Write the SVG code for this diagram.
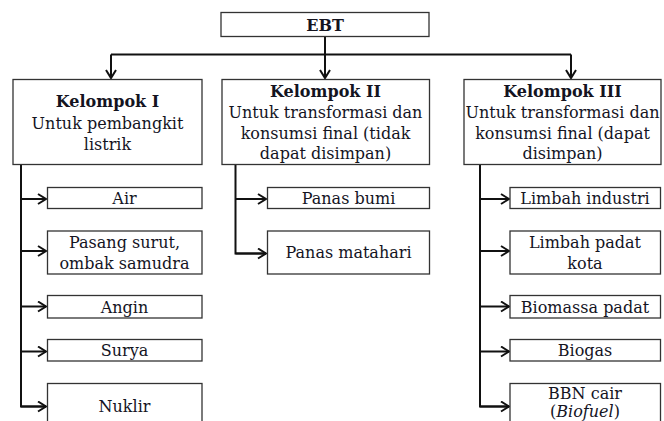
<svg xmlns="http://www.w3.org/2000/svg" width="664" height="421" viewBox="0 0 664 421">
<defs>
<style>
.box{fill:#fff;stroke:#333;stroke-width:1.3}
.t{font-family:"DejaVu Serif","Liberation Serif",serif;font-size:16px;fill:#14141f;text-anchor:middle}
.b{font-weight:bold}
.c{fill:none;stroke:#111;stroke-width:2}
</style>
<marker id="ah" markerUnits="userSpaceOnUse" markerWidth="12" markerHeight="14" refX="9" refY="6" orient="auto">
<path d="M1,1 L9,6 L1,11" fill="none" stroke="#111" stroke-width="2"/>
</marker>
</defs>
<rect width="664" height="421" fill="#fff"/>
<g id="connectors">
<path class="c" d="M325,37 V54.5 M111,54.5 H571"/>
<path class="c" d="M111,54.5 V78" marker-end="url(#ah)"/>
<path class="c" d="M325,54.5 V78" marker-end="url(#ah)"/>
<path class="c" d="M571,54.5 V78" marker-end="url(#ah)"/>
<path class="c" d="M21,165 V406.5 H46"/>
<path class="c" d="M21,199 H46" marker-end="url(#ah)"/>
<path class="c" d="M21,251 H46" marker-end="url(#ah)"/>
<path class="c" d="M21,306.5 H46" marker-end="url(#ah)"/>
<path class="c" d="M21,351.5 H46" marker-end="url(#ah)"/>
<path class="c" d="M21,406.5 H46" marker-end="url(#ah)"/>
<path class="c" d="M235.5,165 V253.5 H266"/>
<path class="c" d="M235.5,199 H266" marker-end="url(#ah)"/>
<path class="c" d="M235.5,253.5 H266" marker-end="url(#ah)"/>
<path class="c" d="M480,165 V406.5 H509"/>
<path class="c" d="M480,199 H509" marker-end="url(#ah)"/>
<path class="c" d="M480,251 H509" marker-end="url(#ah)"/>
<path class="c" d="M480,306.5 H509" marker-end="url(#ah)"/>
<path class="c" d="M480,351.5 H509" marker-end="url(#ah)"/>
<path class="c" d="M480,406.5 H509" marker-end="url(#ah)"/>
</g>
<g id="ebt"><rect class="box" x="221" y="12.5" width="208" height="24"/><text class="t b" x="325" y="31">EBT</text></g>
<g id="kelompok1"><rect class="box" x="13" y="79.5" width="189" height="85"/>
<text class="t b" x="107.5" y="107">Kelompok I</text>
<text class="t" x="107.5" y="129">Untuk pembangkit</text>
<text class="t" x="107.5" y="150">listrik</text></g>
<g id="kelompok2"><rect class="box" x="222" y="79.5" width="207.5" height="85"/>
<text class="t b" x="325.5" y="97">Kelompok II</text>
<text class="t" x="325.5" y="118">Untuk transformasi dan</text>
<text class="t" x="325.5" y="138.5">konsumsi final (tidak</text>
<text class="t" x="325.5" y="159">dapat disimpan)</text></g>
<g id="kelompok3"><rect class="box" x="464" y="79.5" width="197" height="85"/>
<text class="t b" x="562.5" y="97">Kelompok III</text>
<text class="t" x="562.5" y="118" textLength="194" lengthAdjust="spacingAndGlyphs">Untuk transformasi dan</text>
<text class="t" x="562.5" y="138.5">konsumsi final (dapat</text>
<text class="t" x="562.5" y="159">disimpan)</text></g>
<g id="air"><rect class="box" x="47.5" y="187.5" width="154.5" height="21"/><text class="t" x="124.5" y="204">Air</text></g>
<g id="pasang"><rect class="box" x="47.5" y="231" width="154.5" height="43"/><text class="t" x="124.5" y="248">Pasang surut,</text><text class="t" x="124.5" y="268.5">ombak samudra</text></g>
<g id="angin"><rect class="box" x="47.5" y="295.5" width="154.5" height="22.5"/><text class="t" x="124.5" y="313">Angin</text></g>
<g id="surya"><rect class="box" x="47.5" y="339.5" width="154.5" height="21.5"/><text class="t" x="124.5" y="356">Surya</text></g>
<g id="nuklir"><rect class="box" x="47.5" y="383.5" width="154.5" height="45"/><text class="t" x="124.5" y="412">Nuklir</text></g>
<g id="panasbumi"><rect class="box" x="267.5" y="187.5" width="162" height="21"/><text class="t" x="348.5" y="204">Panas bumi</text></g>
<g id="panasmatahari"><rect class="box" x="267.5" y="231" width="162" height="43"/><text class="t" x="348.5" y="258">Panas matahari</text></g>
<g id="limbahindustri"><rect class="box" x="510" y="187.5" width="150.5" height="21"/><text class="t" x="585" y="204">Limbah industri</text></g>
<g id="limbahpadat"><rect class="box" x="510" y="231" width="150.5" height="43"/><text class="t" x="585" y="248">Limbah padat</text><text class="t" x="585" y="268.5">kota</text></g>
<g id="biomassa"><rect class="box" x="510" y="295.5" width="150.5" height="22.5"/><text class="t" x="585" y="313">Biomassa padat</text></g>
<g id="biogas"><rect class="box" x="510" y="339.5" width="150.5" height="21.5"/><text class="t" x="585" y="356">Biogas</text></g>
<g id="bbn"><rect class="box" x="510" y="383.5" width="150.5" height="45"/><text class="t" x="585" y="398.5">BBN cair</text><text class="t" x="585" y="416.5">(<tspan font-style="italic">Biofuel</tspan>)</text></g>
</svg>
